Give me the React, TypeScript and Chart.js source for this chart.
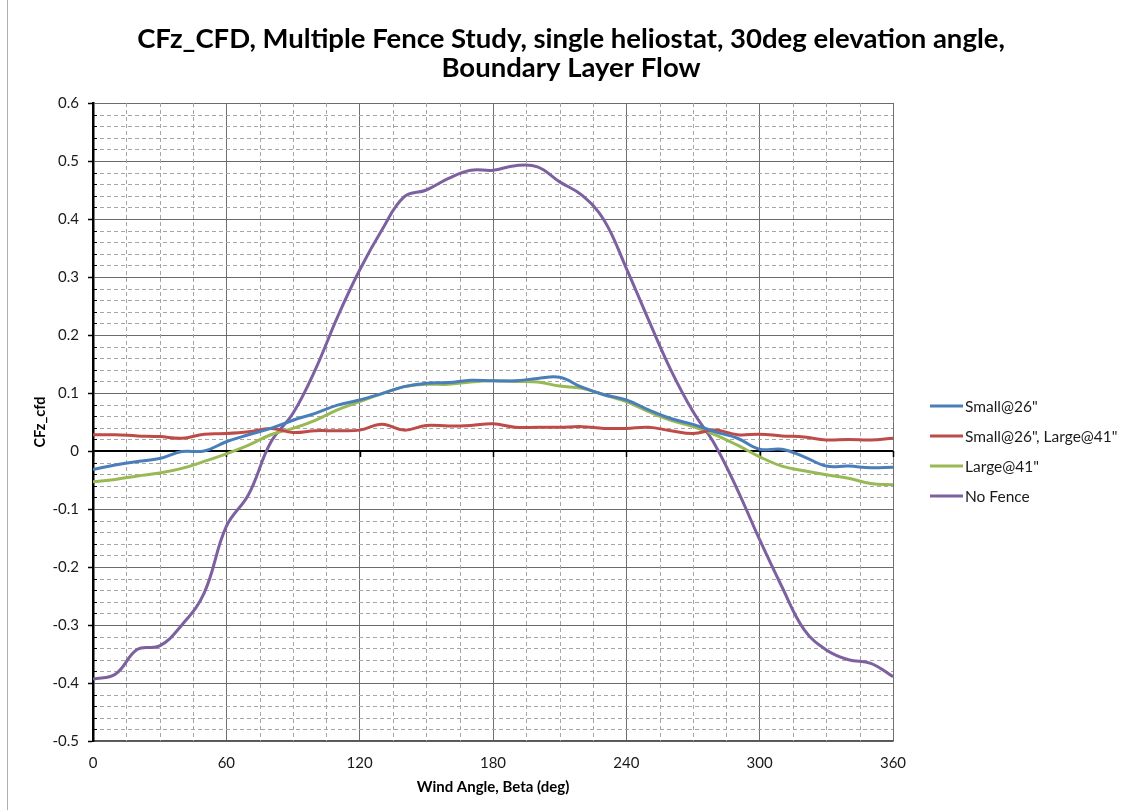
import React, { useEffect, useRef } from "react";
import { Chart, registerables } from "chart.js";

Chart.register(...registerables);

// ---- Data ----
const angles = [0, 10, 20, 30, 40, 50, 60, 70, 80, 90, 100, 110, 120, 130, 140, 150, 160, 170, 180,
  190, 200, 210, 220, 230, 240, 250, 260, 270, 280, 290, 300, 310, 320, 330, 340, 350, 360];

const small26 = [-0.032, -0.024, -0.018, -0.013, -0.001, 0.0, 0.016, 0.028, 0.039, 0.053, 0.065, 0.079, 0.088,
  0.099, 0.111, 0.117, 0.118, 0.122, 0.121, 0.121, 0.125, 0.127, 0.11, 0.097, 0.088, 0.071, 0.056, 0.046,
  0.033, 0.022, 0.003, 0.003, -0.01, -0.026, -0.026, -0.029, -0.028];

const small26Large41 = [0.028, 0.028, 0.026, 0.025, 0.022, 0.029, 0.03, 0.033, 0.039, 0.032, 0.035, 0.035,
  0.036, 0.046, 0.036, 0.044, 0.043, 0.044, 0.047, 0.041, 0.041, 0.041, 0.042, 0.039, 0.039, 0.041, 0.035,
  0.03, 0.036, 0.028, 0.029, 0.026, 0.024, 0.019, 0.02, 0.019, 0.022];

const large41 = [-0.053, -0.049, -0.043, -0.038, -0.03, -0.018, -0.005, 0.01, 0.028, 0.039, 0.053, 0.071,
  0.085, 0.099, 0.111, 0.115, 0.115, 0.119, 0.121, 0.12, 0.119, 0.112, 0.108, 0.097, 0.085, 0.068, 0.053,
  0.042, 0.028, 0.01, -0.01, -0.026, -0.034, -0.041, -0.047, -0.056, -0.058];

const noFence = [-0.393, -0.385, -0.342, -0.336, -0.3, -0.245, -0.13, -0.075, 0.015, 0.065, 0.14, 0.231,
  0.312, 0.381, 0.438, 0.45, 0.47, 0.484, 0.484, 0.492, 0.49, 0.464, 0.441, 0.398, 0.315, 0.226, 0.14,
  0.068, 0.01, -0.067, -0.153, -0.234, -0.308, -0.343, -0.36, -0.366, -0.389];

const seriesNames = ['Small@26"', 'Small@26", Large@41"', 'Large@41"', "No Fence"];
const seriesColors = ["#4a7ebb", "#be4b48", "#98b954", "#7d60a0"];
const seriesValues = [small26, small26Large41, large41, noFence];

const titleLines = ["CFz_CFD, Multiple Fence Study, single heliostat, 30deg elevation angle,", "Boundary Layer Flow"];
const xTitle = "Wind Angle, Beta (deg)";
const yTitle = "CFz_cfd";

const X_MIN = 0, X_MAX = 360, X_MAJOR = 60, X_MINOR = 15;
const Y_MIN = -0.5, Y_MAX = 0.6, Y_MAJOR = 0.1, Y_MINOR = 0.02;

const FONT = "Lato, 'Liberation Sans', sans-serif";

const decorPlugin = {
  id: "decor",
  beforeDatasetsDraw(chart: any) {
    const { ctx, chartArea: a, scales } = chart;
    const x = scales.x, y = scales.y;
    ctx.save();
    // minor dashed grid
    ctx.strokeStyle = "#a6a6a6";
    ctx.lineWidth = 1;
    ctx.setLineDash([4, 3]);
    const nx = Math.round((X_MAX - X_MIN) / X_MINOR);
    for (let i = 1; i < nx; i++) {
      const v = X_MIN + i * X_MINOR;
      if (Math.abs(v % X_MAJOR) < 1e-9) continue;
      const px = Math.round(x.getPixelForValue(v)) + 0.5;
      ctx.beginPath();
      ctx.moveTo(px, a.top);
      ctx.lineTo(px, a.bottom);
      ctx.stroke();
    }
    const ratio = Math.round(Y_MAJOR / Y_MINOR);
    const k0 = Math.round(Y_MIN / Y_MINOR), k1 = Math.round(Y_MAX / Y_MINOR);
    for (let k = k0 + 1; k < k1; k++) {
      if (k % ratio === 0) continue;
      const py = Math.round(y.getPixelForValue(k * Y_MINOR)) + 0.5;
      ctx.beginPath();
      ctx.moveTo(a.left, py);
      ctx.lineTo(a.right, py);
      ctx.stroke();
    }
    ctx.setLineDash([]);
    // minor ticks on y axis (inside)
    ctx.strokeStyle = "#000";
    for (let k = k0 + 1; k < k1; k++) {
      if (k % ratio === 0) continue;
      const py = Math.round(y.getPixelForValue(k * Y_MINOR)) + 0.5;
      ctx.beginPath();
      ctx.moveTo(a.left, py);
      ctx.lineTo(a.left + 4, py);
      ctx.stroke();
    }
    // zero line
    const y0 = Math.round(y.getPixelForValue(0));
    ctx.strokeStyle = "#000";
    ctx.lineWidth = 2;
    ctx.beginPath();
    ctx.moveTo(a.left, y0);
    ctx.lineTo(a.right, y0);
    ctx.stroke();
    // x major ticks on zero line
    ctx.lineWidth = 1.5;
    for (let v = X_MIN; v <= X_MAX; v += X_MAJOR) {
      const px = Math.round(x.getPixelForValue(v)) + 0.5;
      ctx.beginPath();
      ctx.moveTo(px, y0);
      ctx.lineTo(px, y0 + 6);
      ctx.stroke();
    }
    ctx.restore();
  },
  afterDraw(chart: any) {
    const { ctx, chartArea: a } = chart;
    ctx.save();
    // outer left border
    ctx.strokeStyle = "#b0b0b0";
    ctx.lineWidth = 1;
    ctx.beginPath();
    ctx.moveTo(7.5, 0);
    ctx.lineTo(7.5, 810);
    ctx.stroke();
    // title
    ctx.fillStyle = "#000";
    ctx.textAlign = "center";
    ctx.textBaseline = "middle";
    ctx.font = `bold 27.5px ${FONT}`;
    ctx.fillText(titleLines[0], 571, 39);
    ctx.fillText(titleLines[1], 571, 68);
    // axis titles
    ctx.font = `bold 15px ${FONT}`;
    ctx.fillText(xTitle, (a.left + a.right) / 2, 787);
    ctx.save();
    ctx.translate(40, (a.top + a.bottom) / 2);
    ctx.rotate(-Math.PI / 2);
    ctx.font = `bold 14.5px ${FONT}`;
    ctx.fillText(yTitle, 0, 0);
    ctx.restore();
    // legend
    const rows = [406, 436, 466, 496];
    ctx.textAlign = "left";
    ctx.font = `15.5px ${FONT}`;
    seriesNames.forEach((name, i) => {
      ctx.strokeStyle = seriesColors[i];
      ctx.lineWidth = 3;
      ctx.beginPath();
      ctx.moveTo(930, rows[i]);
      ctx.lineTo(963, rows[i]);
      ctx.stroke();
      ctx.fillStyle = "#1a1a1a";
      ctx.fillText(name, 965, rows[i] + 1);
    });
    ctx.restore();
  },
};

export default function App() {
  const ref = useRef<HTMLCanvasElement | null>(null);
  useEffect(() => {
    if (!ref.current) return;
    const chart = new Chart(ref.current, {
      type: "line",
      data: {
        datasets: seriesNames.map((name, i) => ({
          label: name,
          data: angles.map((a, j) => ({ x: a, y: seriesValues[i][j] })),
          borderColor: seriesColors[i],
          backgroundColor: seriesColors[i],
          borderWidth: 3,
          pointRadius: 0,
          tension: 0.4,
          fill: false,
        })),
      },
      options: {
        responsive: false,
        animation: false,
        layout: { padding: { left: 0, top: 103, right: 232, bottom: 0 } },
        plugins: {
          legend: { display: false },
          title: { display: false },
          tooltip: { enabled: false },
        },
        scales: {
          x: {
            type: "linear",
            min: X_MIN,
            max: X_MAX,
            afterFit(scale: any) { scale.height = 71; },
            ticks: {
              stepSize: X_MAJOR,
              padding: 13,
              maxRotation: 0,
              color: "#1a1a1a",
              font: { family: FONT, size: 15 },
            },
            grid: { color: "#707070", lineWidth: 1, drawTicks: false },
            border: { color: "#555", width: 1.5 },
          },
          y: {
            type: "linear",
            min: Y_MIN,
            max: Y_MAX,
            afterFit(scale: any) { scale.width = 93; },
            ticks: {
              stepSize: Y_MAJOR,
              padding: 9,
              color: "#1a1a1a",
              font: { family: FONT, size: 15 },
              callback: (v: any) => String(Number(Number(v).toFixed(1))),
            },
            grid: { color: "#6a6a6a", lineWidth: 1, tickLength: 5, tickColor: "#000", tickWidth: 1.5 },
            border: { color: "#000", width: 2.5 },
          },
        },
      },
      plugins: [decorPlugin],
    } as any);
    return () => chart.destroy();
  }, []);
  return (
    <div style={{ position: "fixed", left: 0, top: 0, width: 1125, height: 812, background: "#fff" }}>
      <canvas ref={ref} width={1125} height={812} style={{ display: "block" }} />
    </div>
  );
}
